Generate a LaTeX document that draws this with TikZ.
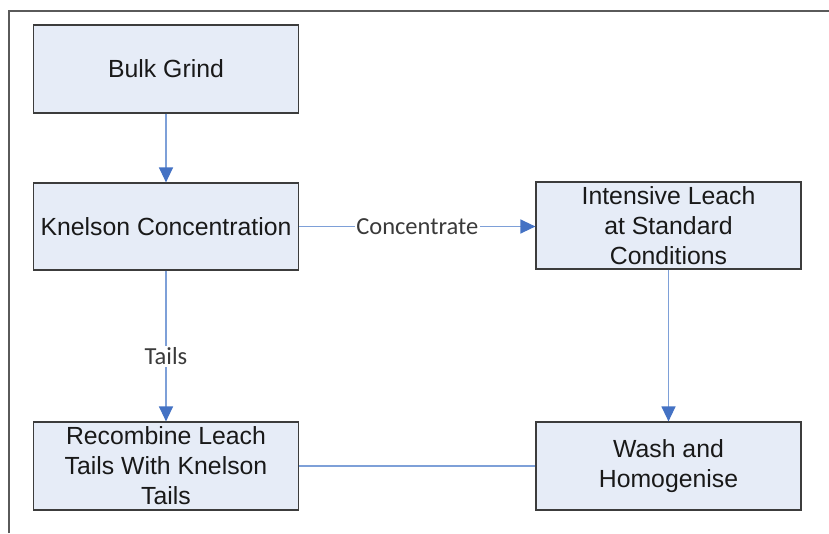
\documentclass[tikz,border=0pt]{standalone}
\usepackage{fontspec}
\setmainfont{Liberation Sans}
\newfontfamily\labfont{Carlito}
\usetikzlibrary{arrows.meta}
\definecolor{boxfill}{HTML}{E6ECF7}
\definecolor{boxline}{HTML}{3C3C3C}
\definecolor{conline}{HTML}{7EA0D8}
\definecolor{tipblue}{HTML}{4472C4}
\definecolor{framecol}{HTML}{5A5A5A}
\definecolor{labcol}{HTML}{3A3A3A}
\tikzset{
  procbox/.style={draw=boxline, fill=boxfill, line width=1.2pt, minimum width=265pt, minimum height=88pt, inner sep=0pt, align=center, font=\fontsize{24.8}{30}\selectfont, text=black!90},
  conn/.style={draw=conline, line width=1.3pt},
  arr/.style={conn, -{Triangle[length=15pt,width=14pt,color=tipblue]}},
  lab/.style={fill=white, inner sep=1.5pt, text=labcol, font=\labfont\fontsize{24.5}{28}\selectfont}
}
\begin{document}
\begin{tikzpicture}[x=1pt,y=-1pt]
\useasboundingbox (0,0) rectangle (829,533);
\fill[white] (0,0) rectangle (829,533);
\draw[framecol, line width=2pt] (9,533) -- (9,11) -- (829,11);
\node[procbox] (bg) at (166,69) {Bulk Grind};
\node[procbox, minimum height=87pt] (kc) at (166,226.5) {Knelson Concentration};
\node[procbox, minimum height=87pt] (il) at (668.5,225.5) {Intensive Leach\\at Standard\\Conditions};
\node[procbox] (rl) at (166,466) {Recombine Leach\\Tails With Knelson\\Tails};
\node[procbox] (wh) at (668.5,466) {Wash and\\Homogenise};
\draw[arr] (bg) -- (kc);
\draw[arr] (kc.east |- 0,226.5) -- node[lab]{Concentrate} (il.west |- 0,226.5);
\draw[arr] (kc) -- node[lab, pos=0.57]{Tails} (rl);
\draw[arr] (il) -- (wh);
\draw[conn] (rl) -- (wh);
\end{tikzpicture}
\end{document}
